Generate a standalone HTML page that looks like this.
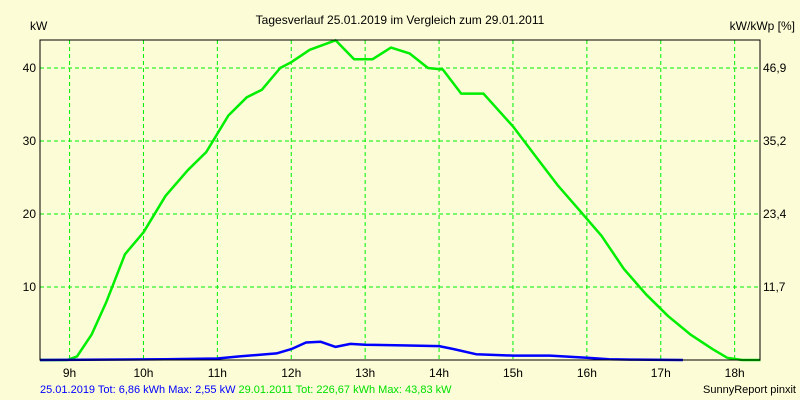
<!DOCTYPE html>
<html><head><meta charset="utf-8"><style>
body{margin:0;background:#fcfcd6;}
svg{display:block;font-family:"Liberation Sans",sans-serif;}
</style></head><body>
<svg id="c" width="800" height="400">
<rect x="0" y="0" width="800" height="400" fill="#fcfcd6"/>
<text x="400" y="24" text-anchor="middle" font-size="12" fill="#000">Tagesverlauf 25.01.2019 im Vergleich zum 29.01.2011</text>
<text x="30" y="30" font-size="12" fill="#000">kW</text>
<text x="795" y="30" text-anchor="end" font-size="12" fill="#000">kW/kWp [%]</text>
<g id="grid"></g>
<g id="series"></g>
<rect x="40" y="40" width="720" height="320" fill="none" stroke="#000" stroke-width="1"/>
<text x="40" y="393" font-size="11" fill="#0000ff">25.01.2019 Tot: 6,86 kWh Max: 2,55 kW <tspan fill="#00e000">29.01.2011 Tot: 226,67 kWh Max: 43,83 kW</tspan></text>
<text x="796" y="393" text-anchor="end" font-size="11" fill="#000">SunnyReport pinxit</text>
</svg>
<script>
const hourTicks=[9,10,11,12,13,14,15,16,17,18];
const yTicks=[10,20,30,40];
const y2Labels=["11,7","23,4","35,2","46,9"];
const greenHours=[8.6,8.97,9.1,9.3,9.5,9.75,10.0,10.3,10.6,10.85,11.15,11.4,11.6,11.85,12.0,12.25,12.6,12.85,13.1,13.35,13.6,13.85,14.05,14.3,14.6,15.0,15.3,15.6,15.9,16.2,16.5,16.8,17.1,17.4,17.7,17.9,18.1,18.35];
const greenKW=[0,0,0.5,3.5,8,14.5,17.5,22.5,26,28.5,33.5,36,37,40,40.8,42.5,43.8,41.2,41.2,42.8,42,40,39.8,36.5,36.5,32,28,24,20.5,17,12.5,9,6,3.5,1.5,0.3,0,0];
const blueHours=[8.6,10.3,11.0,11.3,11.8,12.0,12.2,12.4,12.6,12.8,13.0,13.5,14.0,14.2,14.5,15.0,15.5,16.0,16.3,16.6,17.3];
const blueKW=[0,0.1,0.2,0.5,0.9,1.5,2.4,2.5,1.8,2.2,2.1,2.0,1.9,1.5,0.8,0.6,0.6,0.3,0.1,0.05,0];
const NS="http://www.w3.org/2000/svg";
function xs(h){return 40+(h-8.6)*73.9;}
function ys(v){return 360-v*7.3;}
const grid=document.getElementById('grid'),ser=document.getElementById('series');
function mk(tag,attrs,parent){const e=document.createElementNS(NS,tag);for(const k in attrs)e.setAttribute(k,attrs[k]);parent.appendChild(e);return e;}
hourTicks.forEach(h=>{
  const l=mk('line',{x1:xs(h),x2:xs(h),y1:40,y2:360,stroke:'#00ee00','stroke-dasharray':'4,3'},grid);
  
  
  const t=mk('text',{x:xs(h),y:377,'text-anchor':'middle','font-size':12,fill:'#000'},grid);
  t.textContent=h+'h';
  
  
});
yTicks.forEach((v,i)=>{
  const l=mk('line',{x1:40,x2:760,y1:ys(v),y2:ys(v),stroke:'#00ee00','stroke-dasharray':'4,3'},grid);
  
  
  const t=mk('text',{x:36,y:ys(v)+4,'text-anchor':'end','font-size':12,fill:'#000'},grid);
  t.textContent=v;
  
  
  const t2=mk('text',{x:763,y:ys(v)+4,'font-size':12,fill:'#000'},grid);
  t2.textContent=y2Labels[i];
  
  
});
function pts(hs,vs){return hs.map((h,i)=>xs(h).toFixed(1)+','+ys(vs[i]).toFixed(1)).join(' ');}
const g=mk('polyline',{points:pts(greenHours,greenKW),fill:'none',stroke:'#00ee00','stroke-width':2.5,'stroke-linejoin':'round'},ser);


const b=mk('polyline',{points:pts(blueHours,blueKW),fill:'none',stroke:'#0000ff','stroke-width':2.5,'stroke-linejoin':'round'},ser);


</script>
</body></html>
